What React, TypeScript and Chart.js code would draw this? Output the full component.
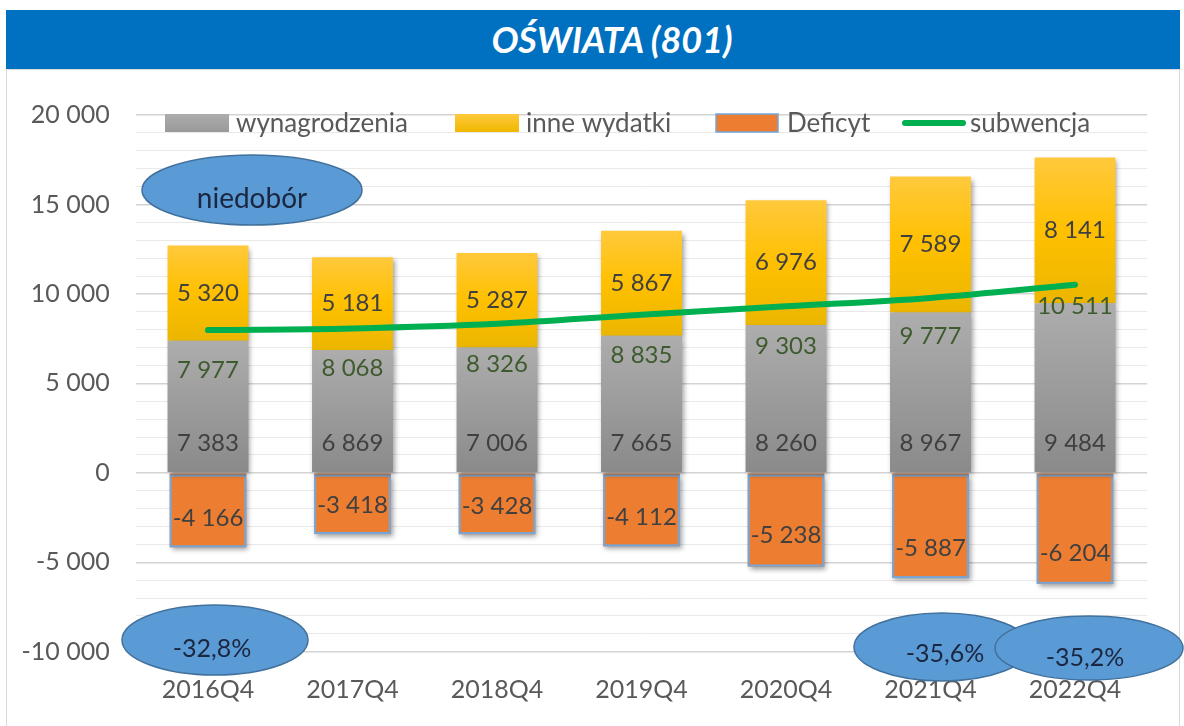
import React, { useEffect, useRef } from 'react';
import { Chart, registerables } from 'chart.js';

Chart.register(...registerables);

const categories = ['2016Q4', '2017Q4', '2018Q4', '2019Q4', '2020Q4', '2021Q4', '2022Q4'];
const wynagrodzenia = [7383, 6869, 7006, 7665, 8260, 8967, 9484];
const inneWydatki = [5320, 5181, 5287, 5867, 6976, 7589, 8141];
const deficyt = [-4166, -3418, -3428, -4112, -5238, -5887, -6204];
const subwencja = [7977, 8068, 8326, 8835, 9303, 9777, 10511];
const seriesNames = ['wynagrodzenia', 'inne wydatki', 'Deficyt', 'subwencja'];
const calloutTexts = ['niedobór', '-32,8%', '-35,6%', '-35,2%'];
const yMin = -10000;
const yMax = 20000;
const yStep = 1000;
const yLabelStep = 5000;

const FONT = 'Lato, "Noto Sans", sans-serif';

// style / placement constants (pixels)
const lineLabelOffsets = [40, 40, 40, 41, 40, 38, 22];
const deficytLabelOffsets = [8, 2, 2, 7, 15, 22, 25];
const calloutShapes = [
  { cx: 252, cy: 190, rx: 110, ry: 35, tx: 252, ty: 199, size: 28 },
  { cx: 215, cy: 640, rx: 93, ry: 35, tx: 212, ty: 649, size: 25 },
  { cx: 942, cy: 647, rx: 88, ry: 34, tx: 945, ty: 654, size: 25 },
  { cx: 1089, cy: 648, rx: 94, ry: 32, tx: 1085, ty: 658, size: 25 },
];
const legendX = [165, 455, 716, 902];

const fmt = (v: number) =>
  (v < 0 ? '-' : '') + Math.abs(v).toString().replace(/\B(?=(\d{3})+(?!\d))/g, ' ');

export default function App() {
  const ref = useRef<HTMLCanvasElement>(null);

  useEffect(() => {
    const canvas = ref.current!;

    const grayFill = (c: any) => {
      const chart = c.chart;
      if (!chart.chartArea || c.type !== 'data' || !chart.scales.y) return '#A0A0A0';
      const ys = chart.scales.y;
      const i = c.dataIndex;
      const top = ys.getPixelForValue(wynagrodzenia[i]);
      const bot = ys.getPixelForValue(0);
      const g = chart.ctx.createLinearGradient(0, top, 0, bot);
      g.addColorStop(0, '#ADADAD');
      g.addColorStop(1, '#8A8A8A');
      return g;
    };
    const yellowFill = (c: any) => {
      const chart = c.chart;
      if (!chart.chartArea || c.type !== 'data' || !chart.scales.y) return '#FFC000';
      const ys = chart.scales.y;
      const i = c.dataIndex;
      const top = ys.getPixelForValue(wynagrodzenia[i] + inneWydatki[i]);
      const bot = ys.getPixelForValue(wynagrodzenia[i]);
      const g = chart.ctx.createLinearGradient(0, top, 0, bot);
      g.addColorStop(0, '#FFC93C');
      g.addColorStop(0.5, '#FFC000');
      g.addColorStop(1, '#EBB600');
      return g;
    };

    const shadowPlugin = {
      id: 'barShadow',
      beforeDatasetDraw(chart: any, args: any) {
        if (args.meta.type === 'bar') {
          const ctx = chart.ctx;
          ctx.save();
          ctx.shadowColor = 'rgba(0,0,0,0.38)';
          ctx.shadowBlur = 5;
          ctx.shadowOffsetX = 2;
          ctx.shadowOffsetY = 3;
        }
      },
      afterDatasetDraw(chart: any, args: any) {
        if (args.meta.type === 'bar') {
          chart.ctx.restore();
          if (args.index === 2) {
            const ctx = chart.ctx;
            ctx.save();
            ctx.strokeStyle = '#74A6DA';
            ctx.lineWidth = 2;
            args.meta.data.forEach((el: any) => {
              const w = el.width;
              const top = Math.min(el.y, el.base);
              const h = Math.abs(el.y - el.base);
              ctx.strokeRect(el.x - w / 2 + 1, top + 2, w - 2, h - 3);
            });
            ctx.restore();
          }
        }
      },
    };

    const labelsPlugin = {
      id: 'valueLabels',
      afterDatasetsDraw(chart: any) {
        const ctx = chart.ctx;
        const ys = chart.scales.y;
        const wynMeta = chart.getDatasetMeta(0);
        const inneMeta = chart.getDatasetMeta(1);
        const defMeta = chart.getDatasetMeta(2);
        const lineMeta = chart.getDatasetMeta(3);
        const y0 = ys.getPixelForValue(0);
        ctx.save();
        ctx.font = `24px ${FONT}`;
        ctx.textAlign = 'center';
        ctx.textBaseline = 'middle';
        categories.forEach((_, i) => {
          ctx.fillStyle = '#404040';
          const w = wynMeta.data[i];
          ctx.fillText(fmt(wynagrodzenia[i]), w.x, y0 - 30);
          const inn = inneMeta.data[i];
          ctx.fillText(fmt(inneWydatki[i]), inn.x, (inn.y + inn.base) / 2);
          const d = defMeta.data[i];
          ctx.fillText(fmt(deficyt[i]), d.x, (d.y + d.base) / 2 + deficytLabelOffsets[i]);
          const p = lineMeta.data[i];
          ctx.fillStyle = '#3E5B2E';
          ctx.fillText(fmt(subwencja[i]), p.x, p.y + lineLabelOffsets[i]);
        });
        ctx.restore();
      },
    };

    const legendPlugin = {
      id: 'customLegend',
      afterDatasetsDraw(chart: any) {
        const ctx = chart.ctx;
        const cy = 123;
        const bw = 64;
        const bh = 18;
        ctx.save();
        seriesNames.forEach((name, i) => {
          const x = legendX[i];
          if (i === 0) {
            const g = ctx.createLinearGradient(0, cy - bh / 2, 0, cy + bh / 2);
            g.addColorStop(0, '#ADADAD');
            g.addColorStop(1, '#999999');
            ctx.fillStyle = g;
            ctx.fillRect(x, cy - bh / 2, bw, bh);
          } else if (i === 1) {
            const g = ctx.createLinearGradient(0, cy - bh / 2, 0, cy + bh / 2);
            g.addColorStop(0, '#FFC93C');
            g.addColorStop(1, '#F0B800');
            ctx.fillStyle = g;
            ctx.fillRect(x, cy - bh / 2, bw, bh);
          } else if (i === 2) {
            ctx.fillStyle = '#ED7D31';
            ctx.fillRect(x, cy - bh / 2, bw - 2, bh);
            ctx.strokeStyle = '#74A6DA';
            ctx.lineWidth = 1.5;
            ctx.strokeRect(x, cy - bh / 2, bw - 2, bh);
          } else {
            ctx.strokeStyle = '#00B050';
            ctx.lineWidth = 6;
            ctx.lineCap = 'round';
            ctx.beginPath();
            ctx.moveTo(x + 3, cy);
            ctx.lineTo(x + bw - 3, cy);
            ctx.stroke();
          }
          ctx.fillStyle = '#595959';
          ctx.font = `26px ${FONT}`;
          ctx.textAlign = 'left';
          ctx.textBaseline = 'middle';
          ctx.fillText(name, x + bw + (i === 3 ? 4 : 7), cy + 1);
        });
        ctx.restore();
      },
    };

    const calloutPlugin = {
      id: 'callouts',
      afterDraw(chart: any) {
        const ctx = chart.ctx;
        ctx.save();
        calloutTexts.forEach((t, i) => {
          const s = calloutShapes[i];
          ctx.beginPath();
          ctx.ellipse(s.cx, s.cy, s.rx, s.ry, 0, 0, Math.PI * 2);
          ctx.fillStyle = '#5B9BD5';
          ctx.fill();
          ctx.strokeStyle = '#41719C';
          ctx.lineWidth = 1.5;
          ctx.stroke();
          ctx.fillStyle = '#1B2640';
          ctx.font = `${s.size}px ${FONT}`;
          ctx.textAlign = 'center';
          ctx.textBaseline = 'middle';
          ctx.fillText(t, s.tx, s.ty);
        });
        ctx.restore();
      },
    };

    const chart = new Chart(canvas, {
      type: 'bar',
      data: {
        labels: categories,
        datasets: [
          {
            label: seriesNames[0],
            data: wynagrodzenia,
            backgroundColor: grayFill,
            stack: 's',
            barPercentage: 0.56,
            categoryPercentage: 1,
            order: 1,
          },
          {
            label: seriesNames[1],
            data: inneWydatki,
            backgroundColor: yellowFill,
            stack: 's',
            barPercentage: 0.56,
            categoryPercentage: 1,
            order: 1,
          },
          {
            label: seriesNames[2],
            data: deficyt,
            backgroundColor: '#ED7D31',
            borderWidth: 0,
            stack: 's',
            barPercentage: 0.53,
            categoryPercentage: 1,
            order: 1,
          },
          {
            type: 'line',
            label: seriesNames[3],
            data: subwencja,
            borderColor: '#00B050',
            borderWidth: 6,
            borderCapStyle: 'round',
            pointRadius: 0,
            tension: 0.4,
            fill: false,
            stack: 'line',
            order: 0,
          } as any,
        ],
      },
      options: {
        animation: false,
        responsive: false,
        maintainAspectRatio: false,
        layout: { padding: { top: 115, bottom: 23.5, left: 0, right: 36.75 } },
        plugins: {
          legend: { display: false },
          tooltip: { enabled: false },
          title: { display: false },
        },
        scales: {
          x: {
            stacked: true,
            offset: true,
            afterFit(scale: any) {
              scale.height = 50.8;
            },
            grid: { display: false, drawTicks: false },
            border: { display: false },
            ticks: {
              color: '#595959',
              font: { family: FONT, size: 25 },
              padding: 23,
              maxRotation: 0,
              autoSkip: false,
            },
          },
          y: {
            stacked: true,
            min: yMin,
            max: yMax,
            afterFit(scale: any) {
              scale.width = 135.75;
            },
            grid: {
              drawTicks: false,
              color: (c: any) => (c.tick && c.tick.value % yLabelStep === 0 ? '#D3D3D3' : '#E9E9E9'),
              lineWidth: (c: any) => (c.tick && c.tick.value % yLabelStep === 0 ? 1.5 : 1),
            },
            border: { display: false },
            ticks: {
              stepSize: yStep,
              autoSkip: false,
              padding: 26,
              color: '#595959',
              font: { family: FONT, size: 25 },
              callback: (v: any) => (Number(v) % yLabelStep === 0 ? fmt(Number(v)) : ''),
            },
          },
        },
      } as any,
      plugins: [shadowPlugin, labelsPlugin, legendPlugin, calloutPlugin],
    });

    return () => chart.destroy();
  }, []);

  return (
    <div style={{ position: 'absolute', left: 0, top: 0, width: 1184, height: 726, overflow: 'hidden', background: '#FFFFFF' }}>
      <div
        style={{
          position: 'absolute',
          left: 6,
          top: 69,
          width: 1174,
          height: 670,
          border: '1.5px solid #D9D9D9',
          boxSizing: 'border-box',
          background: '#FFFFFF',
        }}
      />
      <div
        style={{
          position: 'absolute',
          left: 6,
          top: 10,
          width: 1174,
          height: 59,
          background: '#0070C0',
          color: '#FFFFFF',
          fontFamily: FONT,
          fontWeight: 700,
          fontStyle: 'italic',
          fontSize: 36,
          lineHeight: '59px',
          textAlign: 'center',
          paddingLeft: 38,
          boxSizing: 'border-box',
        }}
      >
        OŚWIATA (801)
      </div>
      <canvas
        ref={ref}
        width={1184}
        height={726}
        style={{ position: 'absolute', left: 0, top: 0, width: 1184, height: 726, display: 'block' }}
      />
    </div>
  );
}
